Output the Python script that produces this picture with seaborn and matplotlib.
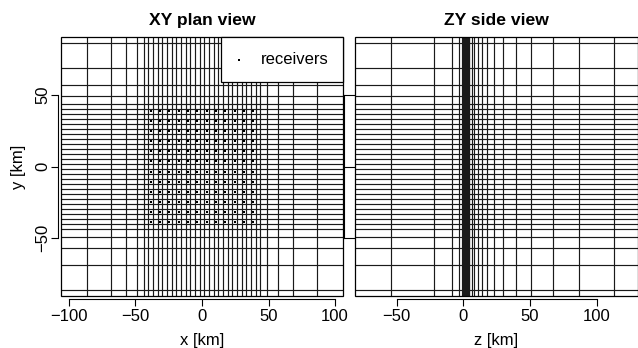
import numpy as np
import pandas as pd
import seaborn as sns
import matplotlib
matplotlib.use("Agg")
import matplotlib.pyplot as plt
from matplotlib.patches import Rectangle

# ---- data (km) ----
x_nodes = [-86.4, -68.5, -56.9, -49.0, -43.8,
           -40.25, -36.75, -33.25, -29.75, -26.25, -22.75, -19.25, -15.75,
           -12.25, -8.75, -5.25, -1.75, 1.75, 5.25, 8.75, 12.25, 15.75,
           19.25, 22.75, 26.25, 29.75, 33.25, 36.75, 40.25,
           43.8, 49.0, 56.9, 68.5, 86.4]
y_nodes = [-86.4, -68.5, -56.9, -49.0, -43.8,
           -40.25, -36.75, -33.25, -29.75, -26.25, -22.75, -19.25, -15.75,
           -12.25, -8.75, -5.25, -1.75, 1.75, 5.25, 8.75, 12.25, 15.75,
           19.25, 22.75, 26.25, 29.75, 33.25, 36.75, 40.25,
           43.8, 49.0, 56.9, 68.5, 86.4]
z_nodes = [-136.0, -54.5, -21.8, -8.7, -3.5, -1.4, -0.56, -0.22,
           0.0, 0.25, 0.5, 0.75, 1.0, 1.3, 1.6, 2.0, 2.4, 2.9, 3.4, 3.9,
           4.5, 6.3, 8.3, 10.8, 14.0, 18.0, 23.0, 30.0, 39.3, 51.0,
           67.0, 87.0, 113.3, 147.0]
rec_x = [-38.5, -31.5, -24.5, -17.5, -10.5, -3.5, 3.5, 10.5, 17.5, 24.5, 31.5, 38.5]
rec_y = [-38.5, -31.5, -24.5, -17.5, -10.5, -3.5, 3.5, 10.5, 17.5, 24.5, 31.5, 38.5]
x_ticks = [-100, -50, 0, 50, 100]
z_ticks = [-50, 0, 50, 100]
y_ticks = [-50, 0, 50]

gx, gy = np.meshgrid(rec_x, rec_y)
rec_df = pd.DataFrame({"x": gx.ravel(), "y": gy.ravel()})

sns.set_style("white")
plt.rcParams["font.family"] = ["Liberation Sans", "DejaVu Sans"]
plt.rcParams["font.size"] = 12
plt.rcParams["axes.unicode_minus"] = True
for k in ["text.color", "axes.labelcolor", "xtick.color", "ytick.color",
          "axes.edgecolor"]:
    plt.rcParams[k] = "black"

W, H = 638, 348
fig = plt.figure(figsize=(W / 100, H / 100), dpi=100)

def px_axes(l, t, r, b):
    return fig.add_axes([l / W, 1 - b / H, (r - l) / W, (b - t) / H])

axL = px_axes(60.5, 37, 343.5, 296)
axR = px_axes(355, 37, 637.5, 296)

LC = "#1a1a1a"
LW = 0.85

def style(ax, xt, yt, xlim, ylim, ylabels=True):
    ax.set_xlim(*xlim)
    ax.set_ylim(*ylim)
    for s in ["top", "right"]:
        ax.spines[s].set_visible(False)
    ax.spines["bottom"].set_bounds(xt[0], xt[-1])
    ax.spines["bottom"].set_position(("outward", 2.3))
    ax.spines["left"].set_bounds(yt[0], yt[-1])
    for s in ["bottom", "left"]:
        ax.spines[s].set_color("black")
        ax.spines[s].set_linewidth(0.8)
    ax.set_xticks(xt)
    ax.set_yticks(yt)
    ax.tick_params(axis="x", direction="out", length=5.0, width=0.8,
                   color="black", labelcolor="black", pad=2.0, labelsize=12,
                   bottom=True)
    if ylabels:
        ax.spines["left"].set_position(("outward", 1.5))
        ax.tick_params(axis="y", direction="out", length=5.0, width=0.8,
                       color="black", labelcolor="black", pad=1.0, labelsize=12,
                       left=True, labelrotation=90)
        for lb in ax.get_yticklabels():
            lb.set_va("center")
    else:
        ax.spines["left"].set_position(("outward", 8.0))
        ax.tick_params(axis="y", direction="in", length=8.0, width=0.8,
                       color="black", left=True, labelleft=False)
    ax.add_patch(Rectangle((0, 0), 1, 1, transform=ax.transAxes, fill=False,
                           edgecolor="black", lw=0.9, clip_on=False, zorder=6))
    ax.grid(False)

# ---- left: XY plan view ----
axL.vlines(x_nodes, -200, 200, colors=LC, linewidth=LW, zorder=1)
axL.hlines(y_nodes, -200, 200, colors=LC, linewidth=LW, zorder=1)
sns.scatterplot(data=rec_df, x="x", y="y", ax=axL, color="black", marker="s",
                s=4, linewidth=0, label="receivers", zorder=3)
style(axL, x_ticks, y_ticks, (-106.3, 106.3), (-90.3, 90.3), ylabels=True)
leg = axL.legend(loc="upper right", borderaxespad=0, frameon=True, fancybox=False,
                 edgecolor="black", framealpha=1, fontsize=12, borderpad=0.9,
                 handlelength=0.45, handletextpad=1.05, markerscale=1.0)
leg.get_frame().set_linewidth(0.9)
leg.set_zorder(7)
axL.set_xlabel("x [km]", fontsize=12)
axL.xaxis.set_label_coords(0.5, (296 - 340) / 259)
axL.xaxis.label.set_va("center")
axL.set_ylabel("y [km]", fontsize=12)
axL.yaxis.set_label_coords((18 - 60.5) / 283, 0.5)
axL.yaxis.label.set_va("center")
axL.set_title("XY plan view", fontsize=12.6, fontweight="bold", y=(296 - 20.5) / 259,
              pad=0, va="center", color="black")

# ---- right: ZY side view ----
axR.vlines(z_nodes, -200, 200, colors=LC, linewidth=LW, zorder=1)
axR.hlines(y_nodes, -300, 300, colors=LC, linewidth=LW, zorder=1)
style(axR, z_ticks, y_ticks, (-81.3, 130.6), (-90.3, 90.3), ylabels=False)
axR.set_xlabel("z [km]", fontsize=12)
axR.xaxis.set_label_coords(0.5, (296 - 340) / 259)
axR.xaxis.label.set_va("center")
axR.set_ylabel("")
axR.set_title("ZY side view", fontsize=12.6, fontweight="bold", y=(296 - 20.5) / 259,
              pad=0, va="center", color="black")

fig.savefig("out.png", dpi=100)
